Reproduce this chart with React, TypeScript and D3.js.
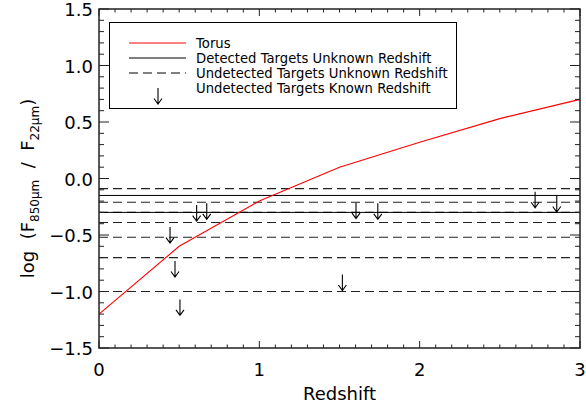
import React from "react";
import * as d3 from "d3";

const torusZ = [0, 0.5, 1, 1.5, 2, 2.5, 3];
const torusRatio = [-1.2, -0.6, -0.2, 0.1, 0.32, 0.53, 0.7];
const detectedLevels = [-0.15, -0.3];
const undetectedLevels = [-0.09, -0.21, -0.3, -0.39, -0.52, -0.7, -1.0];
const limitZ = [0.443, 0.474, 0.505, 0.609, 0.672, 1.518, 1.603, 1.739, 2.72, 2.855];
const limitRatio = [-0.43, -0.73, -1.07, -0.235, -0.22, -0.85, -0.214, -0.22, -0.117, -0.155];
const xTickLabels = ["0", "1", "2", "3"];
const yTickLabels = ["\u22121.5", "\u22121.0", "\u22120.5", "0.0", "0.5", "1.0", "1.5"];
const legendLabels = [
  "Torus",
  "Detected Targets Unknown Redshift",
  "Undetected Targets Unknown Redshift",
  "Undetected Targets Known Redshift",
];

const W = 586;
const H = 404;
const L = 99, R = 580, T = 9, B = 348;
const FONT = "'DejaVu Sans', sans-serif";
const AX = "#222";

export default function App() {
  const x = d3.scaleLinear().domain([0, 3]).range([L, R]);
  const y = d3.scaleLinear().domain([-1.5, 1.5]).range([B, T]);
  const line = d3
    .line<number>()
    .x((_, i) => x(torusZ[i]))
    .y((d) => y(d));

  const xMinor = d3.range(0, 31).map((i) => i / 10);
  const yMinor = d3.range(-15, 16).map((i) => i / 10);
  const isMajorX = (v: number) => Math.abs(v - Math.round(v)) < 1e-6;
  const isMajorY = (v: number) => Math.abs(v * 2 - Math.round(v * 2)) < 1e-6;

  const arrow = (cx: number, cy: number, key: string | number) => (
    <path
      key={key}
      d={`M${cx},${cy} L${cx},${cy + 16} M${cx - 4},${cy + 10.5} L${cx},${cy + 16} L${cx + 4},${cy + 10.5}`}
      fill="none"
      stroke="#000"
      strokeWidth={1.1}
    />
  );

  const legendRows = [43, 58, 73, 88];

  return (
    <svg
      width={W}
      height={H}
      style={{ position: "absolute", left: 0, top: 0, background: "#fff" }}
      fontFamily={FONT}
    >
      <rect x={0} y={0} width={W} height={H} fill="#fff" />
      {undetectedLevels.map((v, i) => (
        <line
          key={"u" + i}
          x1={L}
          x2={R}
          y1={y(v)}
          y2={y(v)}
          stroke="#222"
          strokeWidth={1.1}
          strokeDasharray="9,5"
        />
      ))}
      {detectedLevels.map((v, i) => (
        <line key={"d" + i} x1={L} x2={R} y1={y(v)} y2={y(v)} stroke="#000" strokeWidth={1} />
      ))}
      <path d={line(torusRatio) || ""} fill="none" stroke="#ff0000" strokeWidth={1.1} />
      {limitZ.map((z, i) => arrow(x(z), y(limitRatio[i]), "a" + i))}

      <rect x={L} y={T} width={R - L} height={B - T} fill="none" stroke={AX} strokeWidth={1.5} />
      {xMinor.map((v, i) => {
        const len = isMajorX(v) ? 7 : 3.5;
        return (
          <g key={"xt" + i}>
            <line x1={x(v)} x2={x(v)} y1={B} y2={B - len} stroke={AX} strokeWidth={1} />
            <line x1={x(v)} x2={x(v)} y1={T} y2={T + len} stroke={AX} strokeWidth={1} />
          </g>
        );
      })}
      {yMinor.map((v, i) => {
        const len = isMajorY(v) ? 10 : 5;
        return (
          <g key={"yt" + i}>
            <line x1={L} x2={L + len} y1={y(v)} y2={y(v)} stroke={AX} strokeWidth={1} />
            <line x1={R} x2={R - len} y1={y(v)} y2={y(v)} stroke={AX} strokeWidth={1} />
          </g>
        );
      })}
      {xTickLabels.map((t, i) => (
        <text key={"xl" + i} x={x(+t)} y={376} textAnchor="middle" fontSize={18} fill="#000">
          {t}
        </text>
      ))}
      {yTickLabels.map((t, i) => {
        const v = -1.5 + i * 0.5;
        return (
          <text
            key={"yl" + i}
            x={93}
            y={y(v) + 7}
            textAnchor="end"
            fontSize={18}
            fill="#000"
          >
            {t}
          </text>
        );
      })}
      <text x={(L + R) / 2} y={400} textAnchor="middle" fontSize={18} fill="#000">
        Redshift
      </text>
      <text
        transform={`translate(34,${(T + B) / 2 + 10}) rotate(-90)`}
        textAnchor="middle"
        fontSize={18}
        fill="#000"
        style={{ whiteSpace: "pre" }}
      >
        {"log  (F"}
        <tspan fontSize={12} dy={5}>850μm</tspan>
        <tspan dy={-5}>{"  /  F"}</tspan>
        <tspan fontSize={12} dy={5}>22μm</tspan>
        <tspan dy={-5}>)</tspan>
      </text>

      <rect x={109.5} y={22.5} width={347} height={86} fill="#fff" stroke="#000" strokeWidth={1} />
      <line x1={129} x2={186} y1={legendRows[0]} y2={legendRows[0]} stroke="#ff0000" strokeWidth={1} />
      <line x1={129} x2={186} y1={legendRows[1]} y2={legendRows[1]} stroke="#000" strokeWidth={1} />
      <line
        x1={129}
        x2={186}
        y1={legendRows[2]}
        y2={legendRows[2]}
        stroke="#000"
        strokeWidth={1}
        strokeDasharray="9,5"
      />
      {arrow(158, legendRows[3], "la")}
      {legendLabels.map((t, i) => (
        <text key={"lg" + i} x={196} y={legendRows[i] + 5} fontSize={13.2} fill="#000">
          {t}
        </text>
      ))}
    </svg>
  );
}
